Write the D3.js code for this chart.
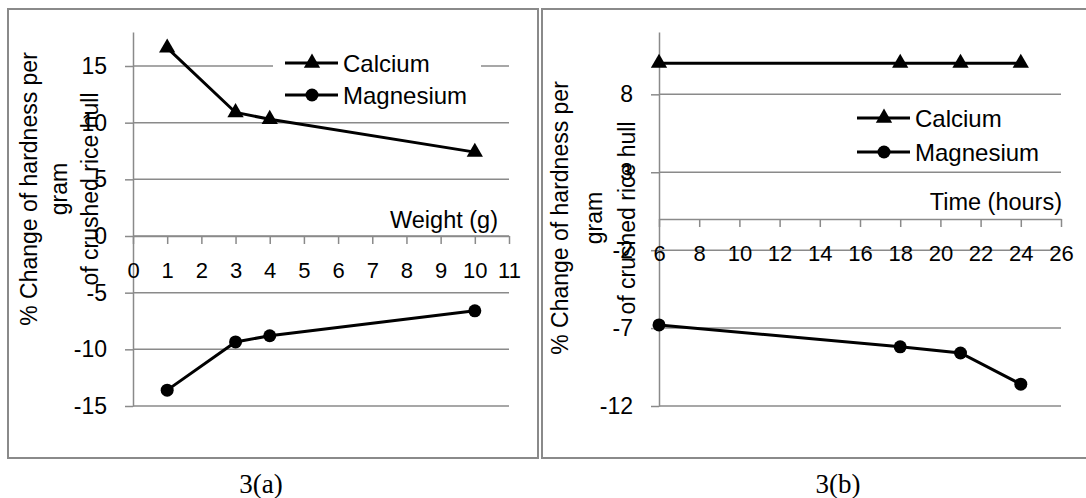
<!DOCTYPE html>
<html lang="en">
<head>
<meta charset="UTF-8">
<title>Change of hardness per gram of crushed rice hull</title>
<script src="https://d3js.org/d3.v7.min.js"></script>
<style>
    body { margin: 0; background: #fff; }
    text { font-family: "Liberation Sans", Arial, sans-serif; fill: #000; }
    .caption { font-family: "Liberation Serif", "Times New Roman", serif; }
</style>
</head>
<body>
<div id="chart"></div>
<script>
    // values
    const weightG = [1, 3, 4, 10];
    const calciumA = [16.6, 10.9, 10.3, 7.4];
    const magnesiumA = [-13.6, -9.35, -8.8, -6.6];
    const weightTicks = [0, 1, 2, 3, 4, 5, 6, 7, 8, 9, 10, 11];
    const yTicksA = [-15, -10, -5, 0, 5, 10, 15];

    const timeH = [6, 18, 21, 24];
    const calciumB = [10, 10, 10, 10];
    const magnesiumB = [-6.8, -8.2, -8.6, -10.6];
    const timeTicks = [6, 8, 10, 12, 14, 16, 18, 20, 22, 24, 26];
    const yTicksB = [-12, -7, -2, 3, 8];

    const seriesNames = ["Calcium", "Magnesium"];
    const titleLines = ["% Change of hardness per", "gram", "of crushed  rice hull"];

    const width = 1086, height = 498;
    const gridColor = "#8a8a8a";
    const plain = d => String(d); // hyphen minus, like the original

    const svg = d3.select("#chart").append("svg")
        .attr("width", width)
        .attr("height", height);

    const triangle = d3.symbol().type(d3.symbolTriangle).size(115);

    function drawPanel(p) {
        const g = svg.append("g");

        // outer frame
        g.append("rect")
            .attr("x", p.frame[0]).attr("y", p.frame[1])
            .attr("width", p.frame[2]).attr("height", p.frame[3])
            .attr("fill", "none")
            .attr("stroke", gridColor)
            .attr("stroke-width", 2);

        const x = d3.scaleLinear().domain(p.xDomain).range(p.xRange);
        const y = d3.scaleLinear().domain(p.yDomain).range(p.yRange);

        // horizontal gridlines
        g.selectAll(".grid")
            .data(p.yTicks)
            .enter().append("line")
            .attr("x1", p.xRange[0]).attr("x2", p.xRange[1])
            .attr("y1", d => y(d)).attr("y2", d => y(d))
            .attr("stroke", gridColor)
            .attr("stroke-width", 1.5);

        // y axis
        const yAxis = g.append("g")
            .attr("transform", `translate(${p.xRange[0]},0)`)
            .call(d3.axisLeft(y).tickValues(p.yTicks).tickFormat(plain)
                .tickSize(8).tickSizeOuter(0).tickPadding(18));
        yAxis.select(".domain").attr("stroke", gridColor).attr("stroke-width", 1.5);
        yAxis.selectAll(".tick line").attr("stroke", gridColor).attr("stroke-width", 1.5);
        yAxis.selectAll("text").attr("font-size", 23).attr("fill", "#000");

        // x axis at zero
        const xAxis = g.append("g")
            .attr("transform", `translate(0,${y(0)})`)
            .call(d3.axisBottom(x).tickValues(p.xTicks).tickFormat(plain)
                .tickSize(8).tickSizeOuter(0).tickPadding(18));
        xAxis.select(".domain").attr("stroke", gridColor).attr("stroke-width", 1.5);
        xAxis.selectAll(".tick line").attr("stroke", gridColor).attr("stroke-width", 1.5);
        xAxis.selectAll("text").attr("font-size", 22).attr("fill", "#000");

        // x axis title
        g.append("text")
            .attr("x", p.xTitlePos[0]).attr("y", p.xTitlePos[1])
            .attr("text-anchor", "end")
            .attr("font-size", 23.5)
            .text(p.xTitle);

        // y axis title, three lines
        g.selectAll(".ytitle")
            .data(titleLines)
            .enter().append("text")
            .attr("transform", (d, i) => `translate(${p.yTitleX[i]},${p.yTitleCy}) rotate(-90)`)
            .attr("text-anchor", "middle")
            .attr("font-size", 23)
            .text(d => d);

        const line = d3.line().x((d, i) => x(p.xs[i])).y(d => y(d));

        // calcium
        g.append("path")
            .datum(p.calcium)
            .attr("d", line)
            .attr("fill", "none").attr("stroke", "#000").attr("stroke-width", 3);
        g.selectAll(".tri")
            .data(p.calcium)
            .enter().append("path")
            .attr("d", triangle)
            .attr("transform", (d, i) => `translate(${x(p.xs[i])},${y(d)})`)
            .attr("fill", "#000");

        // magnesium
        g.append("path")
            .datum(p.magnesium)
            .attr("d", line)
            .attr("fill", "none").attr("stroke", "#000").attr("stroke-width", 3);
        g.selectAll(".dot")
            .data(p.magnesium)
            .enter().append("circle")
            .attr("cx", (d, i) => x(p.xs[i]))
            .attr("cy", d => y(d))
            .attr("r", 6.5)
            .attr("fill", "#000");

        // legend
        const lg = g.append("g").attr("transform", `translate(${p.legend[0]},${p.legend[1]})`);
        lg.append("rect")
            .attr("x", -12).attr("y", -20)
            .attr("width", p.legendW).attr("height", 68)
            .attr("fill", "#fff");
        seriesNames.forEach((name, i) => {
            const cy = i * p.legendStep;
            lg.append("line")
                .attr("x1", 0).attr("x2", 53)
                .attr("y1", cy).attr("y2", cy)
                .attr("stroke", "#000").attr("stroke-width", 3);
            if (i === 0) {
                lg.append("path").attr("d", triangle)
                    .attr("transform", `translate(27,${cy})`).attr("fill", "#000");
            } else {
                lg.append("circle").attr("cx", 27).attr("cy", cy).attr("r", 6.5).attr("fill", "#000");
            }
            lg.append("text")
                .attr("x", 58).attr("y", cy)
                .attr("dy", "0.36em")
                .attr("font-size", 24)
                .text(name);
        });

        // caption
        g.append("text")
            .attr("class", "caption")
            .attr("x", p.caption[0]).attr("y", p.caption[1])
            .attr("text-anchor", "middle")
            .attr("font-size", 27)
            .text(p.captionText);
    }

    drawPanel({
        frame: [8, 9, 530, 449],
        xDomain: [0, 11], xRange: [133, 509],
        yDomain: [-15, 18], yRange: [406, 32],
        xTicks: weightTicks, yTicks: yTicksA,
        xs: weightG, calcium: calciumA, magnesium: magnesiumA,
        xTitle: "Weight (g)", xTitlePos: [498, 228],
        yTitleX: [37, 67, 98], yTitleCy: 189,
        legend: [285, 63], legendStep: 32, legendW: 208,
        caption: [261, 493], captionText: "3(a)"
    });

    drawPanel({
        frame: [542, 9, 560, 449],
        xDomain: [6, 26], xRange: [659, 1061],
        yDomain: [-12, 12], yRange: [406, 32],
        xTicks: timeTicks, yTicks: yTicksB,
        xs: timeH, calcium: calciumB, magnesium: magnesiumB,
        xTitle: "Time (hours)", xTitlePos: [1062, 210],
        yTitleX: [568, 602, 635], yTitleCy: 218,
        legend: [857, 118], legendStep: 34, legendW: 190,
        caption: [838, 493], captionText: "3(b)"
    });
</script>
</body>
</html>
